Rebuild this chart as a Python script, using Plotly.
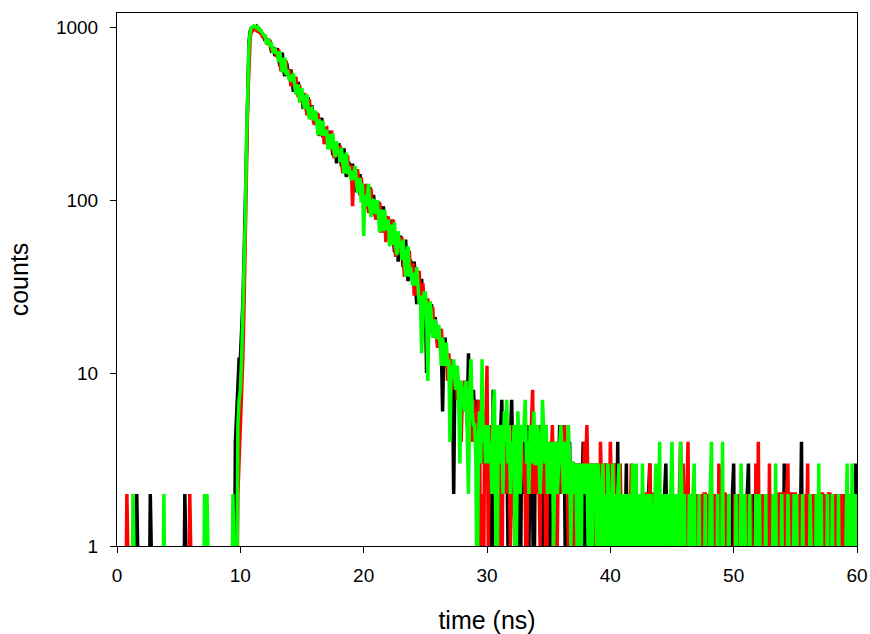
import plotly.graph_objects as go

# time channels (ns): 601 channels, 0.1 ns wide, 0 .. 60 ns
CHANNEL_NS = 0.1
TIME = [round(i * CHANNEL_NS, 1) for i in range(601)]

# one row = 1 ns (10 channels); last single value is t = 60 ns
BLACK_COUNTS = [
    0, 0, 0, 0, 0, 0, 0, 0, 0, 0,
    1, 0, 0, 0, 0, 0, 2, 0, 0, 0,
    0, 0, 0, 0, 0, 0, 0, 2, 0, 0,
    0, 0, 0, 0, 0, 0, 0, 0, 0, 0,
    0, 0, 0, 0, 0, 0, 0, 0, 0, 0,
    0, 0, 0, 0, 0, 2, 0, 0, 0, 0,
    0, 0, 0, 0, 0, 0, 0, 0, 0, 0,
    0, 0, 0, 0, 0, 0, 0, 0, 0, 0,
    0, 0, 0, 0, 0, 0, 0, 0, 0, 0,
    0, 0, 0, 1, 0, 0, 4, 6, 9, 12,
    12, 16, 25, 45, 90, 260, 560, 820, 950, 985,
    985, 1000, 990, 1005, 960, 975, 955, 915, 912, 875,
    834, 856, 812, 852, 795, 735, 746, 765, 679, 727,
    753, 663, 595, 663, 710, 574, 520, 589, 595, 523,
    516, 569, 474, 422, 502, 469, 409, 481, 403, 412,
    423, 336, 379, 395, 329, 392, 321, 294, 353, 304,
    314, 271, 320, 271, 235, 282, 298, 230, 251, 227,
    212, 236, 213, 251, 217, 182, 197, 218, 163, 205,
    207, 178, 156, 181, 199, 153, 136, 162, 166, 142,
    141, 162, 128, 111, 143, 133, 112, 141, 112, 117,
    123, 89, 109, 116, 92, 119, 91, 82, 107, 88,
    94, 77, 98, 79, 65, 85, 92, 65, 74, 65,
    60, 70, 61, 77, 63, 50, 56, 65, 44, 60,
    62, 50, 41, 51, 59, 41, 34, 44, 45, 36,
    36, 44, 31, 25, 36, 33, 25, 35, 25, 27,
    28, 10, 24, 25, 19, 25, 18, 16, 21, 17,
    18, 14, 18, 14, 6, 15, 16, 11, 12, 10,
    12, 10, 9, 2, 11, 8, 10, 7, 9, 8,
    8, 6, 9, 7, 6, 13, 5, 7, 6, 8,
    6, 4, 7, 5, 4, 6, 3, 5, 4, 6,
    4, 3, 5, 2, 0, 8, 3, 5, 4, 2,
    3, 5, 7, 2, 4, 3, 5, 1, 0, 4,
    7, 3, 2, 4, 5, 3, 2, 0, 4, 3,
    2, 4, 3, 5, 1, 3, 4, 2, 0, 3,
    4, 2, 3, 5, 2, 0, 3, 4, 2, 3,
    3, 1, 4, 2, 3, 0, 2, 4, 3, 5,
    2, 5, 3, 2, 0, 3, 2, 4, 1, 3,
    3, 1, 2, 3, 0, 2, 3, 2, 4, 1,
    2, 0, 3, 2, 1, 3, 2, 0, 2, 3,
    1, 2, 3, 0, 2, 1, 3, 2, 0, 2,
    2, 1, 0, 2, 3, 1, 4, 0, 2, 1,
    0, 2, 1, 3, 0, 2, 1, 0, 2, 1,
    2, 0, 1, 2, 0, 1, 2, 0, 1, 0,
    1, 2, 3, 0, 2, 1, 0, 2, 0, 1,
    0, 1, 2, 0, 2, 3, 1, 0, 2, 0,
    2, 0, 1, 2, 0, 1, 0, 2, 1, 0,
    1, 2, 0, 1, 0, 2, 0, 1, 2, 0,
    0, 1, 0, 2, 0, 1, 0, 0, 2, 1,
    0, 2, 0, 1, 0, 0, 2, 0, 1, 0,
    1, 0, 2, 0, 1, 2, 0, 1, 0, 2,
    3, 0, 1, 0, 2, 0, 1, 0, 2, 0,
    0, 2, 3, 0, 1, 0, 2, 0, 1, 0,
    1, 0, 2, 0, 0, 1, 2, 0, 1, 0,
    2, 0, 1, 0, 2, 0, 1, 0, 2, 0,
    0, 3, 0, 1, 0, 2, 0, 1, 2, 0,
    1, 0, 2, 0, 1, 4, 0, 2, 0, 1,
    0, 2, 0, 1, 0, 2, 1, 0, 2, 0,
    1, 0, 2, 0, 1, 0, 0, 2, 0, 1,
    0, 2, 0, 1, 0, 2, 0, 0, 1, 2,
    1, 0, 2, 0, 1, 0, 2, 0, 1, 3,
    1,
]

RED_COUNTS = [
    0, 0, 0, 0, 0, 0, 0, 0, 2, 0,
    0, 0, 0, 0, 0, 0, 0, 0, 0, 0,
    0, 0, 0, 0, 0, 0, 0, 0, 0, 0,
    0, 0, 0, 0, 0, 0, 0, 0, 0, 0,
    1, 0, 0, 0, 0, 0, 0, 0, 0, 0,
    0, 0, 0, 0, 0, 0, 0, 0, 0, 2,
    0, 0, 0, 1, 0, 0, 1, 0, 0, 0,
    0, 0, 0, 0, 0, 0, 0, 0, 0, 1,
    0, 0, 0, 0, 1, 0, 0, 0, 0, 1,
    0, 0, 0, 0, 0, 0, 0, 0, 2, 3,
    5, 7, 12, 24, 50, 150, 380, 680, 870, 950,
    950, 975, 985, 960, 975, 940, 925, 935, 880, 870,
    901, 841, 792, 823, 842, 753, 714, 747, 744, 693,
    672, 742, 621, 555, 661, 621, 543, 641, 537, 551,
    564, 455, 507, 523, 440, 516, 427, 392, 463, 402,
    412, 357, 416, 354, 309, 363, 382, 299, 321, 291,
    273, 302, 273, 317, 276, 234, 251, 276, 210, 259,
    261, 225, 199, 230, 252, 196, 175, 205, 210, 181,
    179, 206, 165, 143, 182, 170, 145, 181, 145, 153,
    159, 92, 140, 150, 119, 151, 118, 106, 135, 113,
    119, 98, 124, 100, 84, 107, 116, 84, 94, 83,
    77, 90, 79, 97, 82, 65, 73, 83, 57, 78,
    80, 66, 55, 68, 77, 55, 47, 60, 62, 51,
    50, 61, 45, 36, 52, 47, 37, 51, 38, 40,
    43, 28, 36, 39, 28, 39, 27, 23, 33, 25,
    27, 21, 27, 21, 17, 22, 24, 16, 18, 16,
    14, 17, 14, 18, 14, 11, 12, 14, 9, 13,
    10, 12, 9, 11, 8, 10, 7, 9, 8, 4,
    7, 9, 6, 8, 5, 7, 9, 6, 4, 7,
    6, 5, 4, 7, 5, 0, 2, 0, 4, 5,
    11, 1, 4, 3, 5, 2, 4, 3, 0, 5,
    4, 2, 0, 5, 3, 4, 2, 5, 3, 1,
    3, 5, 2, 1, 4, 3, 5, 2, 4, 3,
    3, 2, 0, 4, 3, 2, 5, 8, 2, 3,
    2, 4, 3, 1, 5, 3, 2, 4, 0, 3,
    4, 2, 3, 5, 2, 3, 0, 2, 4, 3,
    3, 2, 4, 5, 2, 3, 1, 2, 3, 0,
    2, 3, 0, 2, 3, 1, 2, 3, 2, 4,
    3, 5, 2, 1, 3, 2, 0, 3, 2, 1,
    2, 0, 4, 2, 1, 3, 0, 2, 3, 1,
    4, 2, 0, 3, 1, 2, 0, 2, 3, 1,
    2, 0, 1, 2, 0, 2, 1, 3, 0, 2,
    0, 2, 1, 0, 2, 0, 1, 2, 0, 2,
    2, 0, 3, 1, 0, 2, 2, 0, 1, 2,
    1, 2, 0, 2, 1, 0, 2, 1, 0, 2,
    0, 2, 1, 0, 2, 0, 2, 4, 0, 3,
    1, 0, 2, 4, 0, 2, 1, 0, 2, 1,
    2, 0, 2, 1, 2, 0, 2, 2, 0, 2,
    0, 2, 2, 0, 2, 1, 2, 0, 3, 2,
    2, 0, 2, 2, 0, 2, 0, 1, 0, 0,
    0, 2, 0, 1, 0, 2, 0, 2, 1, 0,
    2, 0, 1, 0, 2, 0, 1, 0, 3, 0,
    4, 0, 2, 1, 0, 2, 0, 1, 0, 3,
    0, 2, 0, 1, 0, 2, 2, 0, 2, 2,
    2, 0, 2, 2, 3, 0, 2, 2, 0, 2,
    2, 0, 2, 0, 2, 1, 0, 2, 0, 1,
    3, 0, 1, 2, 0, 2, 0, 1, 0, 2,
    0, 2, 2, 0, 1, 2, 0, 2, 2, 0,
    2, 0, 2, 1, 2, 0, 2, 0, 2, 1,
    0, 2, 0, 1, 0, 2, 0, 1, 2, 0,
    0,
]

GREEN_COUNTS = [
    0, 0, 0, 0, 0, 0, 0, 0, 0, 0,
    0, 0, 0, 2, 0, 0, 0, 0, 0, 0,
    1, 0, 0, 0, 1, 0, 0, 0, 1, 0,
    0, 0, 0, 0, 1, 0, 0, 0, 2, 0,
    0, 0, 0, 0, 0, 0, 0, 0, 0, 1,
    0, 0, 0, 1, 0, 0, 0, 0, 0, 0,
    0, 0, 0, 0, 0, 0, 0, 0, 0, 0,
    0, 2, 0, 2, 0, 0, 0, 0, 1, 0,
    0, 0, 0, 0, 0, 0, 0, 0, 0, 0,
    0, 0, 1, 0, 2, 0, 0, 0, 5, 7,
    8, 12, 20, 38, 75, 220, 500, 790, 930, 995,
    1000, 1015, 1008, 990, 1000, 965, 968, 935, 915, 895,
    891, 800, 832, 837, 766, 818, 741, 707, 757, 702,
    717, 628, 723, 621, 548, 636, 666, 529, 566, 516,
    489, 528, 481, 542, 477, 409, 432, 465, 365, 433,
    434, 379, 337, 379, 409, 325, 293, 335, 339, 295,
    291, 328, 269, 237, 292, 274, 236, 287, 236, 245,
    254, 196, 228, 240, 197, 242, 194, 177, 219, 187,
    194, 166, 201, 166, 142, 175, 188, 141, 156, 140,
    130, 147, 131, 157, 133, 110, 120, 134, 97, 125,
    62, 107, 92, 110, 124, 91, 80, 99, 101, 85,
    84, 100, 77, 65, 88, 81, 66, 88, 67, 72,
    77, 54, 67, 72, 55, 74, 55, 48, 66, 53,
    57, 45, 59, 46, 36, 49, 54, 36, 41, 35,
    32, 38, 32, 41, 33, 25, 28, 13, 20, 29,
    29, 23, 9, 23, 26, 19, 16, 20, 20, 16,
    16, 19, 14, 11, 16, 14, 11, 15, 11, 12,
    4, 11, 10, 12, 9, 8, 11, 7, 3, 9,
    8, 7, 6, 9, 5, 2, 8, 12, 6, 5,
    5, 3, 0, 4, 6, 3, 12, 4, 5, 3,
    4, 5, 3, 4, 2, 6, 8, 3, 0, 5,
    3, 4, 5, 2, 6, 4, 7, 3, 5, 2,
    4, 3, 5, 0, 3, 6, 4, 2, 5, 4,
    5, 7, 3, 4, 2, 5, 3, 4, 6, 3,
    3, 5, 4, 2, 3, 7, 4, 3, 5, 2,
    4, 3, 2, 4, 1, 3, 4, 2, 3, 4,
    5, 3, 2, 4, 3, 2, 5, 3, 1, 3,
    3, 2, 3, 1, 3, 2, 0, 3, 2, 3,
    2, 3, 1, 3, 2, 0, 3, 2, 3, 1,
    3, 2, 0, 2, 3, 1, 2, 0, 3, 2,
    2, 0, 3, 1, 2, 0, 2, 3, 0, 2,
    1, 2, 0, 2, 1, 0, 2, 1, 3, 0,
    2, 3, 0, 2, 1, 0, 3, 1, 2, 0,
    0, 2, 1, 2, 0, 1, 2, 3, 0, 2,
    4, 0, 2, 1, 0, 2, 0, 2, 1, 2,
    4, 1, 2, 0, 2, 0, 1, 4, 2, 0,
    2, 0, 1, 0, 2, 1, 0, 2, 3, 0,
    1, 0, 2, 0, 0, 1, 0, 2, 0, 1,
    0, 2, 4, 0, 1, 0, 0, 2, 0, 1,
    0, 4, 0, 1, 0, 0, 2, 0, 1, 0,
    1, 0, 2, 0, 1, 0, 3, 0, 0, 2,
    0, 1, 0, 2, 0, 1, 0, 0, 2, 0,
    0, 2, 0, 1, 0, 0, 2, 0, 1, 0,
    1, 0, 2, 0, 3, 0, 1, 0, 0, 2,
    0, 1, 0, 0, 2, 0, 0, 1, 0, 2,
    0, 2, 0, 1, 0, 0, 2, 0, 1, 0,
    1, 0, 2, 0, 0, 1, 0, 2, 0, 3,
    0, 2, 0, 1, 0, 0, 2, 0, 1, 0,
    2, 0, 1, 0, 0, 2, 0, 1, 0, 0,
    0, 1, 3, 0, 2, 0, 3, 1, 0, 2,
    0,
]

for _counts in (BLACK_COUNTS, RED_COUNTS, GREEN_COUNTS):
    assert len(_counts) == len(TIME), len(_counts)

SERIES = [
    ("black", BLACK_COUNTS, "#000000"),
    ("red", RED_COUNTS, "#ff0000"),
    ("green", GREEN_COUNTS, "#00ff00"),
]

X_TICKS = [0, 10, 20, 30, 40, 50, 60]
Y_TICKS = [1, 10, 100, 1000]
Y_TICK_TEXT = ["1", "10", "100", "1000"]

# zero counts cannot sit on a log axis; they fall below the frame and are clipped
ZERO_FLOOR = 0.3

FONT = "Arial, 'Liberation Sans', sans-serif"

fig = go.Figure()
for name, counts, color in SERIES:
    fig.add_trace(go.Scatter(
        x=TIME,
        y=[c if c > 0 else ZERO_FLOOR for c in counts],
        mode="lines",
        name=name,
        line=dict(color=color, width=3.5),
        showlegend=False,
    ))

fig.update_layout(
    width=870, height=634,
    margin=dict(l=117, r=13, t=13, b=88),
    paper_bgcolor="white", plot_bgcolor="white",
    font=dict(family=FONT, color="black"),
)
fig.update_xaxes(
    range=[0, 60], tickvals=X_TICKS, automargin=False,
    ticks="outside", ticklen=6, tickwidth=1, tickcolor="black",
    showline=True, linecolor="black", linewidth=1, mirror=True,
    showgrid=False, zeroline=False,
    tickfont=dict(size=19, family=FONT, color="black"),
    ticklabelstandoff=6,
    title=dict(text="time (ns)", font=dict(size=25, family=FONT, color="black"), standoff=26),
)
fig.update_yaxes(
    type="log", range=[0, 3.081], automargin=False,
    tickvals=Y_TICKS, ticktext=Y_TICK_TEXT,
    ticks="outside", ticklen=6, tickwidth=1, tickcolor="black",
    showline=True, linecolor="black", linewidth=1, mirror=True,
    showgrid=False, zeroline=False,
    tickfont=dict(size=19, family=FONT, color="black"),
    ticklabelstandoff=8,
    title=dict(text="counts", font=dict(size=25, family=FONT, color="black"), standoff=20),
)

fig.write_html("out.html")
